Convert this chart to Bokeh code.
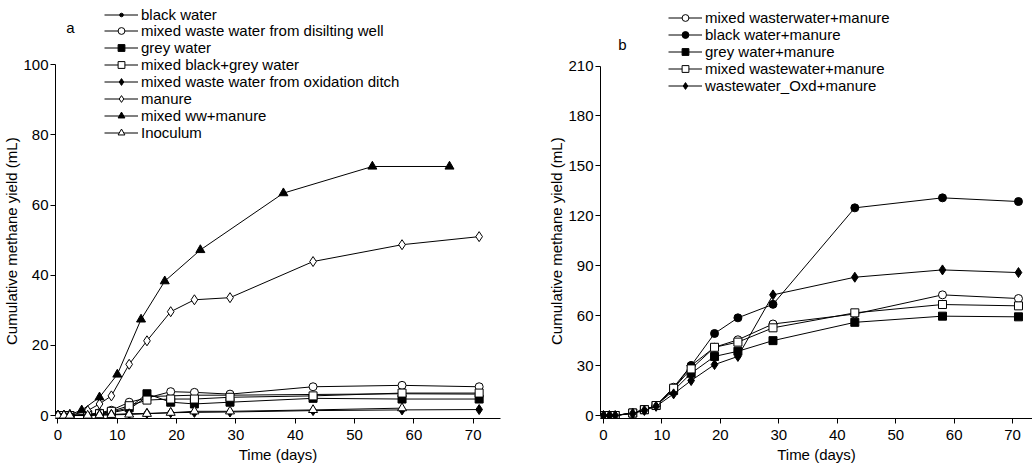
from bokeh.plotting import figure
from bokeh.models import Range1d, Legend, LegendItem, Label, FixedTicker
from bokeh.layouts import row
from bokeh.embed import file_html
from bokeh.resources import INLINE

# ---------------- data ----------------
days = [0, 1, 2, 5, 7, 9, 12, 15, 19, 23, 29, 43, 58, 71]

# panel a
a_black_water = [0, 0, 0, 0.2, 0.4, 0.8, 1.8, 5.4, 5.6, 5.8, 5.8, 6.0, 6.2, 6.1]
a_disilting = [0, 0, 0, 0.3, 0.8, 1.5, 3.8, 5.0, 6.8, 6.6, 6.1, 8.2, 8.6, 8.2]
a_grey_water = [0, 0, 0, 0.2, 0.5, 1.0, 2.2, 6.2, 3.8, 3.3, 3.8, 4.9, 4.7, 4.7]
a_black_grey = [0, 0, 0, 0.2, 0.5, 1.2, 2.8, 4.4, 4.7, 4.7, 5.2, 5.6, 6.4, 6.4]
a_oxidation = [0, 0, 0, 0.1, 0.2, 0.3, 0.5, 0.6, 0.8, 0.9, 1.0, 1.4, 1.6, 1.7]
a_manure = [0, 0, 0, 1.4, 3.3, 5.6, 14.6, 21.3, 29.6, 33.0, 33.6, 43.9, 48.7, 51.0]
ww_manure_days = [0, 1, 2, 4, 7, 10, 14, 18, 24, 38, 53, 66]
a_ww_manure = [0, 0, 0.3, 1.5, 5.2, 11.7, 27.4, 38.3, 47.2, 63.4, 71.0, 71.0]
inoculum_days = [0, 1, 2, 5, 7, 9, 12, 15, 19, 23, 29, 43, 58]
a_inoculum = [0, 0, 0, 0, 0.1, 0.2, 0.3, 0.5, 0.8, 1.2, 1.2, 1.6, 2.1]

# panel b
b_mixed_ww = [0, 0, 0, 1.5, 3.5, 6.0, 17.0, 30.0, 41.0, 45.5, 55.0, 61.0, 72.5, 70.3]
b_black_water = [0, 0, 0, 1.5, 3.5, 6.0, 16.0, 30.0, 49.3, 58.7, 66.8, 124.8, 130.8, 128.6]
b_grey_water = [0, 0, 0, 1.5, 3.5, 6.0, 15.0, 25.4, 35.5, 38.6, 45.0, 56.0, 59.7, 59.3]
b_mixed_ww2 = [0, 0, 0, 1.5, 3.5, 6.0, 16.4, 28.0, 41.0, 44.1, 52.7, 61.7, 66.7, 65.9]
b_oxd = [0, 0, 0, 1.2, 3.0, 5.5, 13.0, 21.0, 30.6, 35.5, 72.5, 83.1, 87.5, 85.9]

a_ticks_y = [0, 20, 40, 60, 80, 100]
b_ticks_y = [0, 30, 60, 90, 120, 150, 180, 210]
x_ticks = [0, 10, 20, 30, 40, 50, 60, 70]

Y_TITLE = "Cumulative methane yield (mL)"
X_TITLE = "Time (days)"
# non-breaking padding so that the axis title is centred on the 0..max span of the axis
PAD = "\u00a0" * 14

FONT = "Liberation Sans"
FS = "15px"


def style(p, yticks, ybound):
    p.xgrid.visible = False
    p.ygrid.visible = False
    p.outline_line_color = None
    p.background_fill_color = "white"
    p.border_fill_color = "white"
    for ax in (p.xaxis[0], p.yaxis[0]):
        ax.axis_line_color = "black"
        ax.axis_line_width = 1
        ax.major_tick_line_color = "black"
        ax.major_tick_out = 5
        ax.major_tick_in = 0
        ax.minor_tick_line_color = None
        ax.major_label_text_font = FONT
        ax.major_label_text_font_size = FS
        ax.major_label_text_color = "black"
        ax.axis_label_text_font = FONT
        ax.axis_label_text_font_size = FS
        ax.axis_label_text_font_style = "normal"
        ax.axis_label_text_color = "black"
    p.xaxis[0].ticker = FixedTicker(ticks=x_ticks)
    p.yaxis[0].ticker = FixedTicker(ticks=yticks)
    p.yaxis[0].bounds = ybound
    p.xaxis[0].axis_label = X_TITLE
    p.yaxis[0].axis_label = Y_TITLE + PAD
    p.xaxis[0].major_label_standoff = 6
    p.yaxis[0].major_label_standoff = 2
    p.xaxis[0].axis_label_standoff = 3
    p.yaxis[0].axis_label_standoff = 0


def series(p, x, y, marker, filled, size):
    ln = p.line(x, y, line_color="black", line_width=1)
    sc = p.scatter(x, y, marker=marker, size=size, line_color="black", line_width=1,
                   fill_color="black" if filled else "white")
    return [ln, sc]


def make_legend(items, loc, gw, gh=17):
    return Legend(items=[LegendItem(label=t, renderers=r) for t, r in items],
                  location=loc, orientation="vertical",
                  glyph_width=gw, glyph_height=gh, label_height=17, label_standoff=3,
                  spacing=0, padding=0, margin=0, border_line_color=None,
                  background_fill_alpha=0, label_text_font=FONT, label_text_font_size=FS,
                  label_text_color="black")


# ---------------- panel a ----------------
pa = figure(width=520, height=474, output_backend="svg", toolbar_location=None,
            x_range=Range1d(-0.42, 74.6), y_range=Range1d(-0.85, 116.9),
            min_border_left=55, min_border_right=20, min_border_top=5, min_border_bottom=51)
style(pa, a_ticks_y, (0, 100))

items_a_first = [
    ("black water", series(pa, days, a_black_water, "circle", True, 4)),
]
items_a = [
    ("mixed waste water from disilting well", series(pa, days, a_disilting, "circle", False, 8)),
    ("grey water", series(pa, days, a_grey_water, "square", True, 8)),
    ("mixed black+grey water", series(pa, days, a_black_grey, "square", False, 8)),
    ("mixed waste water from oxidation ditch", series(pa, days, a_oxidation, "diamond", True, 10)),
    ("manure", series(pa, days, a_manure, "diamond", False, 10)),
    ("mixed ww+manure", series(pa, ww_manure_days, a_ww_manure, "triangle", True, 9)),
    ("Inoculum", series(pa, inoculum_days, a_inoculum, "triangle", False, 9)),
]
pa.add_layout(make_legend(items_a_first, (49, 395), 34, gh=9), "center")
pa.add_layout(make_legend(items_a, (49, 277), 34), "center")
pa.add_layout(Label(x=2.1, y=110.6, text="a", text_font=FONT, text_font_size=FS,
                    text_align="center", text_baseline="middle", text_color="black"))

# ---------------- panel b ----------------
pb = figure(width=512, height=474, output_backend="svg", toolbar_location=None,
            x_range=Range1d(-0.51, 73.4), y_range=Range1d(-1.8, 246.4),
            min_border_left=80, min_border_right=0, min_border_top=5, min_border_bottom=56)
style(pb, b_ticks_y, (0, 210))

items_b = [
    ("mixed wasterwater+manure", series(pb, days, b_mixed_ww, "circle", False, 8)),
    ("black water+manure", series(pb, days, b_black_water, "circle", True, 8)),
    ("grey water+manure", series(pb, days, b_grey_water, "square", True, 8)),
    ("mixed wastewater+manure", series(pb, days, b_mixed_ww2, "square", False, 8)),
    ("wastewater_Oxd+manure", series(pb, days, b_oxd, "diamond", True, 10)),
]
pb.add_layout(make_legend(items_b, (68, 324), 34), "center")
pb.add_layout(Label(x=3.25, y=223, text="b", text_font=FONT, text_font_size=FS,
                    text_align="center", text_baseline="middle", text_color="black"))

layout = row(pa, pb)
open("out.html", "w").write(file_html(layout, INLINE))
